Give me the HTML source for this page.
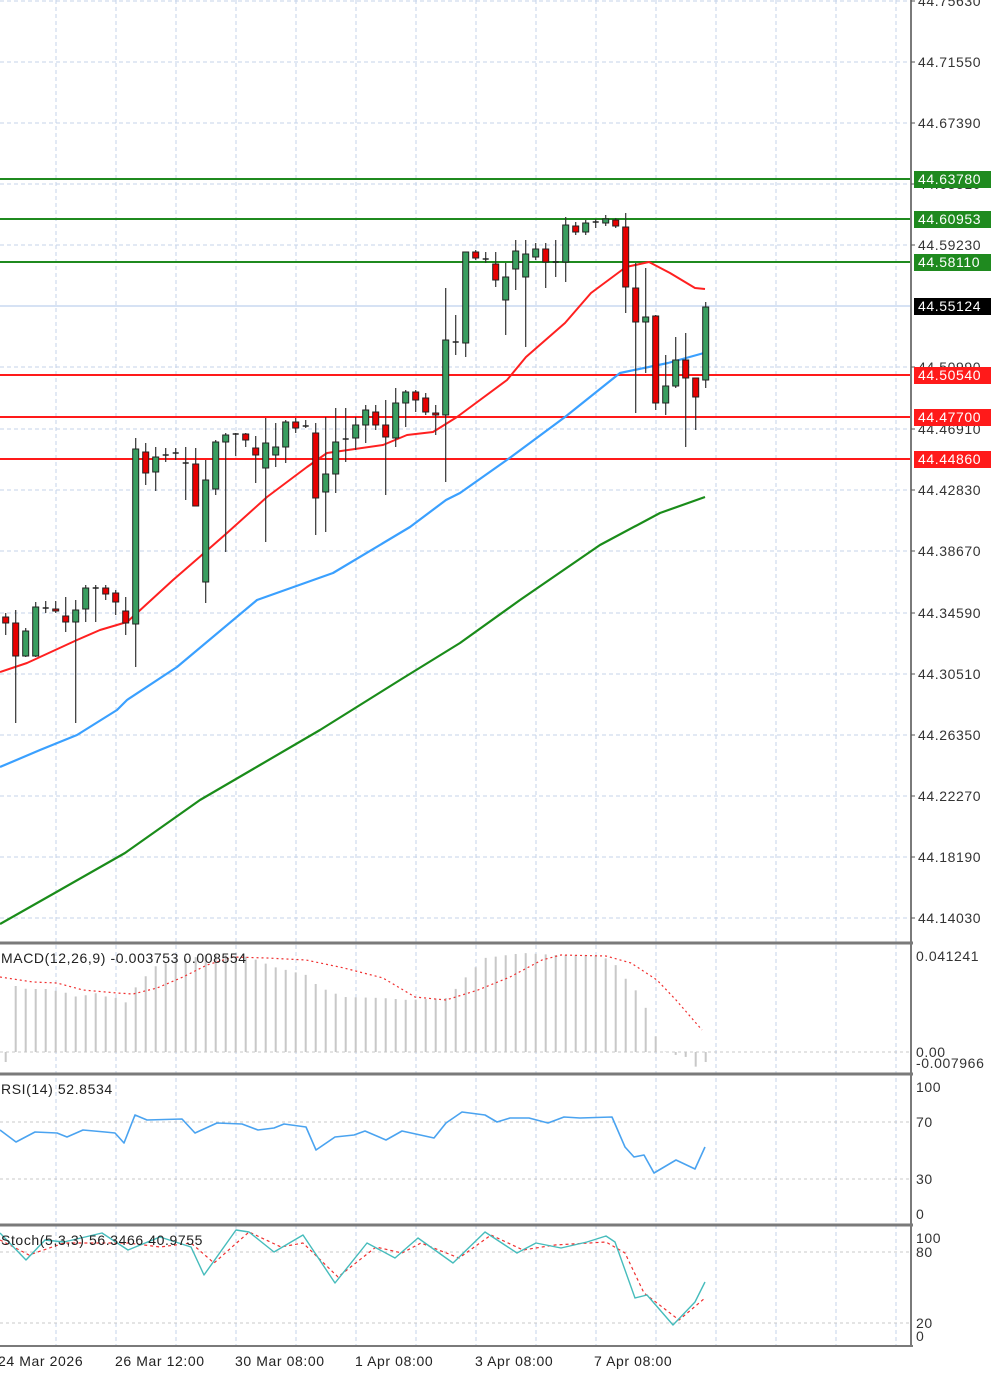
<!DOCTYPE html>
<html><head><meta charset="utf-8"><style>
html,body{margin:0;padding:0;background:#fff;}
svg{display:block;font-family:"Liberation Sans",sans-serif;}
text{letter-spacing:0.6px;}
</style></head><body>
<svg id="c" width="1000" height="1376" xmlns="http://www.w3.org/2000/svg"></svg>
<script>
var s='';
function L(x1,y1,x2,y2,c,w,d){s+='<line x1="'+x1+'" y1="'+y1+'" x2="'+x2+'" y2="'+y2+'" stroke="'+c+'" stroke-width="'+w+'"'+(d?' stroke-dasharray="'+d+'"':'')+'/>';}
function P(pts,c,w,d){s+='<polyline fill="none" points="'+pts.map(function(p){return p.join(',')}).join(' ')+'" stroke="'+c+'" stroke-width="'+w+'"'+(d?' stroke-dasharray="'+d+'"':'')+' stroke-linejoin="round"/>';}
function T(x,y,t,c,sz,anc){s+='<text x="'+x+'" y="'+y+'" fill="'+c+'" font-size="'+(sz||14)+'"'+(anc?' text-anchor="'+anc+'"':'')+'>'+t+'</text>';}
var G='#c4d3ea';
for(var x=56;x<911;x+=60){L(x,0,x,1346,G,1,'4,3');}
var hy=[1,62,123,184,245,306,367,429,490,551,613,674,735,796,857,918];
hy.forEach(function(y){L(0,y,911,y,G,1,'4,3');});
[1052,1122,1179,1252,1323].forEach(function(y){L(0,y,911,y,'#c8c8c8',1,'3,3');});
L(0,306,911,306,'#c8d8f0',1.5);
var mh=[[6,979],[17,987],[27,989],[37,989],[47,989],[57,991],[67,993],[77,997],[87,995],[97,993],[107,997],[117,998],[127,1003],[137,985],[147,975],[157,965],[167,963],[177,960],[191,958],[207,955],[223,955],[249,957],[274,967],[306,975],[319,987],[344,997],[383,998],[408,1000],[446,998],[453,992],[466,977],[485,958],[523,953],[555,955],[593,955],[612,960],[625,978],[638,993],[644,1003],[657,1040],[666,1052],[676,1055],[686,1057],[695,1067],[705,1062]];
function mAt(x){for(var i=0;i<mh.length-1;i++){if(x>=mh[i][0]&&x<=mh[i+1][0]){var t=(x-mh[i][0])/(mh[i+1][0]-mh[i][0]);return mh[i][1]+t*(mh[i+1][1]-mh[i][1]);}}return mh[mh.length-1][1];}
for(var k=0;k<71;k++){var cx=5.7+10*k;var y=mAt(cx);L(cx,1052,cx,y,'#c8c8c8',2);}
P([[0,977],[33,982],[57,983],[83,990],[117,993],[133,994],[157,988],[183,977],[207,965],[233,957],[267,958],[306,960],[344,968],[383,978],[415,997],[446,1000],[478,990],[510,977],[542,960],[561,955],[606,956],[631,963],[657,980],[676,1000],[702,1030]],'#f03030',1.2,'2,3');
L(0,179,911,179,'#1f8a1f',2);L(0,219,911,219,'#1f8a1f',2);L(0,262,911,262,'#1f8a1f',2);
L(0,375,911,375,'#ff1a1a',2);L(0,417,911,417,'#ff1a1a',2);L(0,459,911,459,'#ff1a1a',2);
P([[0,924],[60,890],[125,853],[200,800],[260,765],[320,730],[400,680],[460,643],[520,600],[600,545],[660,513],[705,497]],'#1a8c1a',2.2);
P([[0,767],[40,750],[77,735],[117,710],[127,700],[177,667],[257,600],[333,573],[410,527],[446,500],[460,493],[511,457],[565,417],[620,373],[668,363],[704,353]],'#3aa0ff',2.2);
P([[0,672],[27,663],[77,640],[100,630],[127,622],[137,613],[173,580],[203,554],[227,533],[267,497],[307,467],[327,453],[383,445],[407,435],[433,432],[457,417],[507,380],[526,357],[565,323],[591,293],[626,267],[649,262],[670,273],[695,288],[705,289]],'#ff2020',2);
var C=[['r',617,623,613,635],['r',623,656,610,723],['g',631,656,628,657],['g',607,656,602,657],['d',608,608,601,613],['r',609,611,601,613],['r',616,622,597,632],['g',610,622,600,723],['g',588,609,585,622],['d',588,588,585,622],['r',588,594,585,600],['r',593,602,590,615],['r',611,623,597,635],['g',449,624,438,667],['r',452,473,443,485],['g',457,472,447,491],['d',455,455,448,462],['d',453,453,448,460],['d',463,463,447,500],['r',464,506,448,506],['g',480,582,460,603],['g',442,489,440,495],['g',435,442,433,552],['d',434,434,433,456],['r',434,440,433,447],['r',448,455,436,483],['g',443,468,418,542],['g',447,455,423,467],['g',422,447,420,463],['r',422,428,418,433],['d',426,426,420,428],['r',433,498,423,535],['g',474,492,417,532],['g',442,474,408,493],['d',439,439,408,462],['g',425,438,417,450],['g',410,425,405,443],['r',412,425,405,430],['r',425,437,400,495],['g',403,438,388,447],['g',392,403,390,427],['r',392,400,390,412],['r',398,412,393,415],['r',413,415,405,435],['g',340,415,288,482],['d',342,342,315,355],['g',252,343,252,357],['r',252,258,250,260],['d',259,259,252,263],['r',264,280,252,287],['g',277,300,263,335],['g',251,269,240,290],['g',254,277,240,347],['g',249,257,243,260],['r',249,262,243,288],['d',262,262,240,277],['g',225,262,217,282],['r',226,232,222,235],['g',223,232,220,235],['d',222,222,219,228],['g',219,223,215,226],['r',220,226,218,228],['r',227,287,213,313],['r',288,322,263,413],['g',317,322,268,373],['r',316,403,315,410],['g',386,403,355,415],['g',360,386,337,388],['r',360,378,333,447],['r',378,397,378,430],['g',307,380,302,388]];
C.forEach(function(c,k){var cx=5.7+10*k;L(cx,c[3],cx,c[4],'#333',1.2);
 if(c[0]=='d'){L(cx-3,c[1],cx+3,c[1],'#222',1.5);}
 else{var h=Math.max(c[2]-c[1],2);s+='<rect x="'+(cx-3)+'" y="'+c[1]+'" width="6" height="'+h+'" fill="'+(c[0]=='g'?'#3a9e60':'#e80000')+'" stroke="#222" stroke-width="1"/>';}});
P([[0,1130],[16,1142],[35,1132],[57,1133],[67,1137],[83,1130],[105,1132],[115,1133],[124,1143],[135,1115],[147,1120],[182,1119],[195,1133],[217,1123],[242,1124],[258,1130],[274,1128],[284,1124],[306,1127],[316,1150],[335,1137],[354,1135],[365,1131],[386,1140],[402,1131],[434,1138],[446,1123],[462,1112],[485,1115],[497,1122],[510,1118],[529,1118],[548,1123],[564,1117],[580,1118],[612,1117],[625,1147],[634,1157],[644,1155],[654,1173],[676,1160],[695,1169],[705,1147]],'#4aa3f0',1.6);
P([[0,1240],[29,1255],[64,1243],[128,1243],[160,1247],[191,1243],[214,1263],[249,1232],[281,1247],[303,1243],[338,1277],[376,1247],[402,1253],[421,1243],[459,1258],[491,1235],[523,1250],[555,1245],[606,1242],[625,1253],[644,1293],[679,1320],[705,1298]],'#f03030',1.2,'3,3');
P([[0,1233],[26,1260],[45,1240],[64,1242],[102,1233],[128,1250],[160,1237],[191,1247],[204,1275],[236,1230],[249,1232],[274,1252],[303,1235],[335,1283],[367,1243],[395,1258],[418,1238],[453,1263],[485,1232],[517,1253],[536,1243],[561,1248],[587,1242],[606,1236],[615,1242],[635,1298],[647,1295],[673,1325],[695,1302],[705,1282]],'#46bcbc',1.4);
[943,1074,1225].forEach(function(y){L(0,y,913,y,'#7a7a7a',3);});
L(0,1346,913,1346,'#7a7a7a',2);
L(911,0,911,1347,'#7a7a7a',2);
var lab=[[1,'44.75630'],[62,'44.71550'],[123,'44.67390'],[184,'44.63510'],[245,'44.59230'],[367,'44.50990'],[429,'44.46910'],[490,'44.42830'],[551,'44.38670'],[613,'44.34590'],[674,'44.30510'],[735,'44.26350'],[796,'44.22270'],[857,'44.18190'],[918,'44.14030']];
lab.forEach(function(l){L(911,l[0],915,l[0],'#555',1);T(918,l[0]+5,l[1],'#333');});
function box(y,t,bg){s+='<rect x="914" y="'+(y-8)+'" width="77" height="17" fill="'+bg+'"/>';T(918,y+5,t,'#fff');}
box(179,'44.63780','#1f8a1f');box(219,'44.60953','#1f8a1f');box(262,'44.58110','#1f8a1f');
box(306,'44.55124','#000');
box(375,'44.50540','#ff1a1a');box(417,'44.47700','#ff1a1a');box(459,'44.44860','#ff1a1a');
T(916,961,'0.041241','#333');T(916,1057,'0.00','#333');T(916,1068,'-0.007966','#333');
T(916,1092,'100','#333');T(916,1127,'70','#333');T(916,1184,'30','#333');T(916,1219,'0','#333');
T(916,1243,'100','#333');T(916,1257,'80','#333');T(916,1328,'20','#333');T(916,1341,'0','#333');
T(1,963,'MACD(12,26,9) -0.003753 0.008554','#222');
T(1,1094,'RSI(14) 52.8534','#222');
T(1,1245,'Stoch(5,3,3) 56.3466 40.9755','#222');
T(-2,1366,'24 Mar 2026','#222');T(115,1366,'26 Mar 12:00','#222');T(235,1366,'30 Mar 08:00','#222');
T(355,1366,'1 Apr 08:00','#222');T(475,1366,'3 Apr 08:00','#222');T(594,1366,'7 Apr 08:00','#222');
document.getElementById('c').innerHTML=s;
</script>
</body></html>
